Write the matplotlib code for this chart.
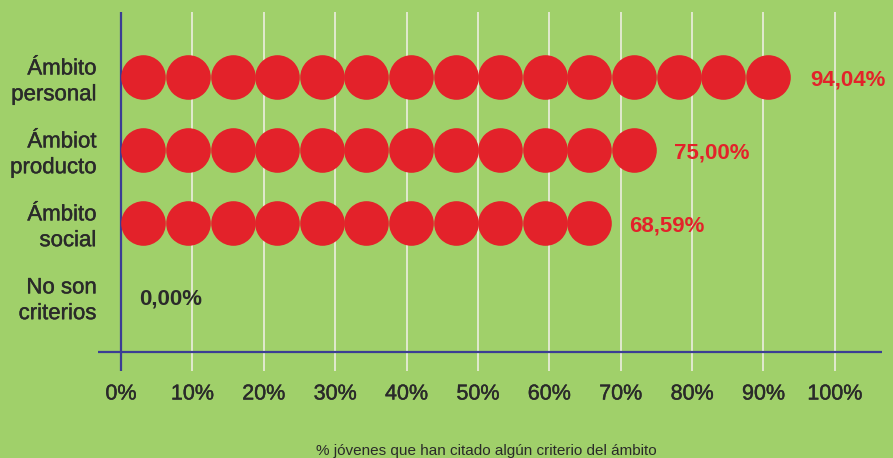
import matplotlib
matplotlib.use("Agg")
import matplotlib.pyplot as plt
import matplotlib.patheffects as pe

# data
categorias = ["Ámbito\npersonal", "Ámbiot\nproducto", "Ámbito\nsocial", "No son\ncriterios"]
valores = [94.04, 75.00, 68.59, 0.00]
etiquetas = ["94,04%", "75,00%", "68,59%", "0,00%"]
ticks = list(range(0, 101, 10))
tick_labels = [str(t) + "%" for t in ticks]
unidad = 6.25  # each circle = 6.25 %

verde = "#a0d06a"
rojo = "#e3222a"
azul = "#3b3d94"
texto = "#2a2a2a"

plt.rcParams["font.family"] = ["Liberation Sans", "DejaVu Sans"]

fig = plt.figure(figsize=(8.93, 4.58), dpi=100, facecolor=verde)
ax = fig.add_axes([98 / 893, 87 / 458, 784 / 893, 359 / 458])
ax.set_facecolor(verde)
ax.set_xlim(-3.22, 106.6)
ax.set_ylim(4.03, -0.89)
for s in ax.spines.values():
    s.set_visible(False)

filas = list(range(len(categorias)))

ax.set_xticks(ticks)
ax.set_xticklabels(tick_labels, fontsize=15.5, color=texto)
ax.set_yticks(filas)
ax.set_yticklabels(categorias, fontsize=16, color=texto, linespacing=1.3)
ax.tick_params(axis="x", length=0, pad=9)
ax.tick_params(axis="y", length=0, pad=1)
for t in ax.get_xticklabels() + ax.get_yticklabels():
    t.set_path_effects([pe.withStroke(linewidth=0.3, foreground=texto)])

ax.grid(axis="x", color="#e6ebd6", linewidth=1.3)
ax.set_axisbelow(True)
ax.axvline(0, color=azul, linewidth=1.6, zorder=2)
ax.axhline(3.77, color=azul, linewidth=1.6, zorder=2)

# circle size from the x scale
px_por_unidad = ax.get_position().width * fig.get_figwidth() * fig.dpi / (106.6 + 3.22)
diam_pt = unidad * px_por_unidad * 72 / fig.dpi
for y, v in zip(filas, valores):
    n = int(round(v / unidad))
    xs = [(i + 0.5) * unidad for i in range(n)]
    ax.scatter(xs, [y] * n, s=diam_pt ** 2, color=rojo, linewidths=0, zorder=3)

for y, v, lab in zip(filas, valores, etiquetas):
    c = rojo if v > 0 else texto
    ax.annotate(lab, xy=(v, y), xytext=(13, -2), textcoords="offset points",
                fontsize=16, fontweight="bold", color=c, va="center", ha="left")

fig.text(0.545, 0.006, "% jóvenes que han citado algún criterio del ámbito",
         fontsize=11, color=texto, ha="center", va="baseline")

fig.savefig("out.png", dpi=100, facecolor=verde)
